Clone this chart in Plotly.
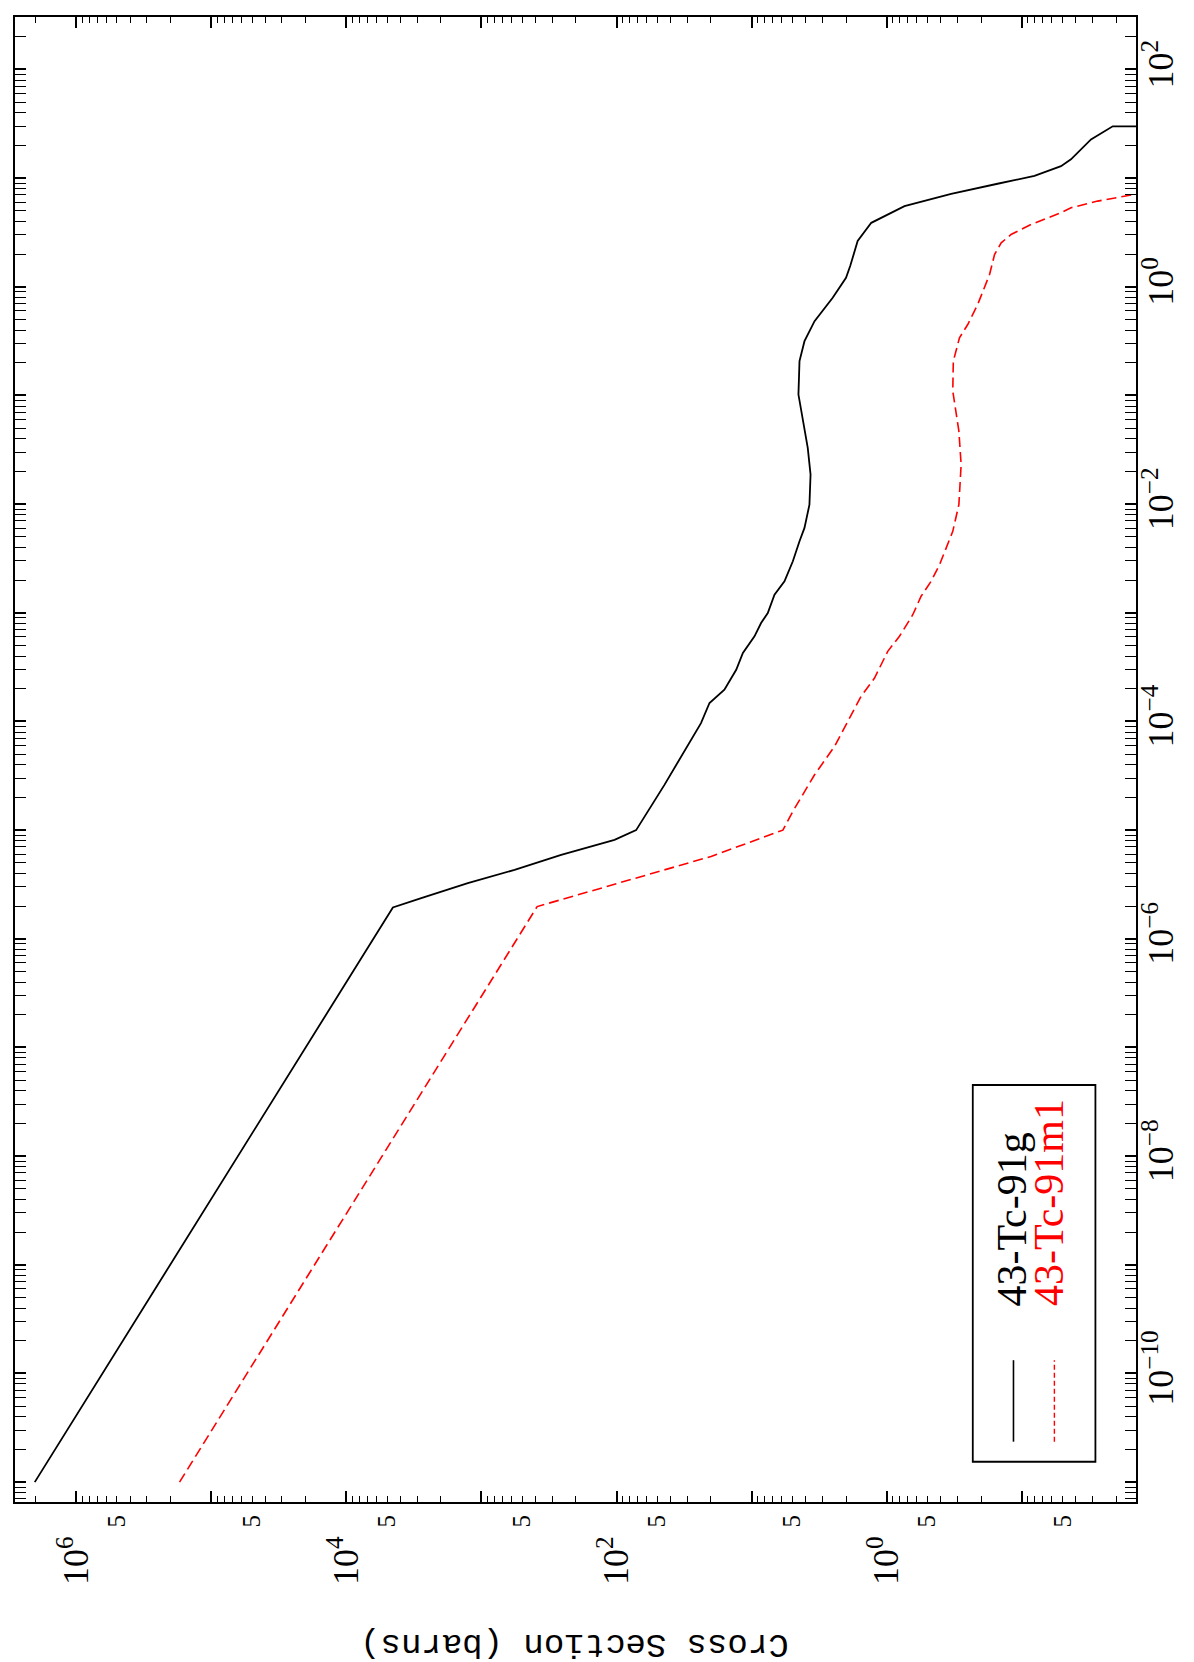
import plotly.graph_objects as go

# ---------------- data (energy in MeV, cross section in barns) ----------------
g_label = "43-Tc-91g"
g_energy = [1e-11, 1.94e-6, 2.37e-6, 3.25e-6, 4.31e-6, 5.93e-6, 8.15e-6, 1.0e-5, 2.61e-5,
            9.66e-5, 1.48e-4, 1.96e-4, 2.99e-4, 4.27e-4, 6.08e-4, 8.05e-4, 9.95e-4, 1.47e-3,
            1.95e-3, 2.98e-3, 4.55e-3, 6.04e-3, 9.9e-3, 1.87e-2, 3.30e-2, 5.80e-2, 0.102,
            0.207, 0.316, 0.483, 0.792, 1.21, 1.56, 2.64, 3.88, 5.53, 7.18, 8.88, 10.5,
            12.9, 14.9, 22.7, 30.0, 30.0]
g_xs = [2.03e6, 4529, 2793, 1262, 569, 257, 103.5, 71.6, 44.2,
        23.7, 20.5, 15.9, 13.0, 11.6, 9.52, 8.51, 7.59, 6.77,
        5.71, 4.95, 4.42, 4.06, 3.73, 3.66, 3.84, 4.18, 4.50,
        4.42, 4.06, 3.42, 2.51, 2.00, 1.86, 1.64, 1.30, 0.738, 0.333, 0.151, 0.0805,
        0.0512, 0.0432, 0.0307, 0.0212, 1e-4]

m_label = "43-Tc-91m1"
m_energy = [1e-11, 1.98e-6, 2.54e-6, 3.83e-6, 5.73e-6, 8.44e-6, 1.0e-5, 1.49e-5, 3.23e-5,
            5.90e-5, 1.33e-4, 1.70e-4, 2.51e-4, 4.42e-4, 6.08e-4, 9.6e-4, 1.42e-3, 1.95e-3,
            2.77e-3, 5.62e-3, 9.9e-3, 2.31e-2, 4.69e-2, 0.110, 0.207, 0.339, 0.450, 0.687,
            1.30, 1.98, 2.54, 3.03, 3.75, 4.80, 5.34, 6.15, 7.08, 7.8]
m_xs = [1.72e5, 387, 193, 62.1, 19.95, 8.51, 5.87, 4.95, 3.42,
        2.43, 1.73, 1.55, 1.23, 0.982, 0.804, 0.641, 0.556, 0.469,
        0.406, 0.324, 0.292, 0.281, 0.292, 0.324, 0.321, 0.289, 0.251, 0.212,
        0.173, 0.159, 0.142, 0.120, 0.0853, 0.0512, 0.0432, 0.0274, 0.0147, 0.0098]

# ---------------- tick labels ----------------
xs_decades = [-1, 0, 1, 2, 3, 4, 5, 6]
xs_labelled = [0, 2, 4, 6]
xs_five_decades = [-2, -1, 0, 1, 2, 3, 4, 5]
e_decades = list(range(-11, 3))
e_labelled = [-10, -8, -6, -4, -2, 0, 2]
minor_digits = [2, 3, 4, 5, 6, 7, 8, 9]


def exp_text(n):
    s = str(n).replace("-", "\u2212")
    return "10<sup>" + s + "</sup>"


xs_tickvals = [10.0 ** n for n in xs_decades]
xs_ticktext = [exp_text(n) if n in xs_labelled else "" for n in xs_decades]
xs_minor = [d * 10.0 ** n for n in range(-2, 7) for d in minor_digits]
xs_five_vals = [5 * 10.0 ** n for n in xs_five_decades]
xs_five_text = ["5" for _ in xs_five_decades]

e_tickvals = [10.0 ** n for n in e_decades]
e_ticktext = [exp_text(n) if n in e_labelled else "" for n in e_decades]
e_minor = [d * 10.0 ** n for n in range(-12, 3) for d in minor_digits]

XS_RANGE = [6.4537, -1.846]
E_RANGE = [-11.183, 2.483]

SERIF = "Liberation Serif"
MONO = "Liberation Mono"

fig = go.Figure()
fig.add_trace(go.Scatter(x=g_xs, y=g_energy, mode="lines", name=g_label,
                         line=dict(color="black", width=1.8), showlegend=False))
fig.add_trace(go.Scatter(x=m_xs, y=m_energy, mode="lines", name=m_label,
                         line=dict(color="#ff0000", width=1.6, dash="10px,5px"),
                         showlegend=False))
# invisible trace so the label-only overlay axis is rendered
fig.add_trace(go.Scatter(x=g_xs, y=g_energy, mode="lines", xaxis="x2",
                         line=dict(color="rgba(0,0,0,0)", width=0), opacity=0,
                         hoverinfo="skip", showlegend=False))

axis_common = dict(type="log", showgrid=False, zeroline=False, showline=True,
                   linecolor="black", linewidth=2, mirror="allticks", ticks="inside",
                   ticklen=11, tickwidth=1.5, tickcolor="black", tickmode="array",
                   tickangle=-90, automargin=False)

fig.update_layout(
    template="none",
    width=1194, height=1662,
    margin=dict(l=7, r=66, t=9, b=168, autoexpand=False),
    paper_bgcolor="white", plot_bgcolor="white",
    xaxis=dict(**axis_common, range=XS_RANGE, side="bottom",
               tickvals=xs_tickvals, ticktext=xs_ticktext,
               tickfont=dict(family=SERIF, size=36, color="black"),
               ticklabelstandoff=18,
               minor=dict(tickmode="array", tickvals=xs_minor, ticks="inside",
                          ticklen=6, tickwidth=1.3, tickcolor="black", showgrid=False)),
    xaxis2=dict(type="log", range=XS_RANGE, overlaying="x", anchor="y", side="bottom",
                showgrid=False, zeroline=False, showline=False, ticks="",
                automargin=False,
                tickmode="array", tickvals=xs_five_vals, ticktext=xs_five_text,
                tickangle=-90, ticklabelstandoff=7,
                tickfont=dict(family=SERIF, size=25, color="black")),
    yaxis=dict(**axis_common, range=E_RANGE, side="right",
               tickvals=e_tickvals, ticktext=e_ticktext,
               tickfont=dict(family=SERIF, size=36, color="black"),
               ticklabelstandoff=-8,
               minor=dict(tickmode="array", tickvals=e_minor, ticks="inside",
                          ticklen=6, tickwidth=1.3, tickcolor="black", showgrid=False)),
)

# axis title (upside down, as in the rotated original)
fig.add_annotation(text="Cross Section (barns)", xref="paper", yref="paper",
                   x=0.4994, y=-0.096, showarrow=False, textangle=180,
                   xanchor="center", yanchor="middle",
                   font=dict(family=MONO, size=34, color="black"))

# legend box
fig.add_shape(type="rect", xref="paper", yref="paper", x0=0.8544, x1=0.9638,
              y0=0.0271, y1=0.2808, line=dict(color="black", width=1.8),
              fillcolor="white", layer="above")
fig.add_shape(type="line", xref="paper", yref="paper", x0=0.8907, x1=0.8907,
              y0=0.0406, y1=0.0955, line=dict(color="black", width=1.6), layer="above")
fig.add_shape(type="line", xref="paper", yref="paper", x0=0.9272, x1=0.9272,
              y0=0.0406, y1=0.0955, line=dict(color="#ff0000", width=1.4, dash="5px,3px"),
              layer="above")
fig.add_annotation(text=g_label, xref="paper", yref="paper", x=0.8896, y=0.1304,
                   xanchor="center", yanchor="bottom", showarrow=False, textangle=-90,
                   font=dict(family=SERIF, size=42, color="black"))
fig.add_annotation(text=m_label, xref="paper", yref="paper", x=0.9225, y=0.1304,
                   xanchor="center", yanchor="bottom", showarrow=False, textangle=-90,
                   font=dict(family=SERIF, size=42, color="#ff0000"))

fig.write_html("out.html")
